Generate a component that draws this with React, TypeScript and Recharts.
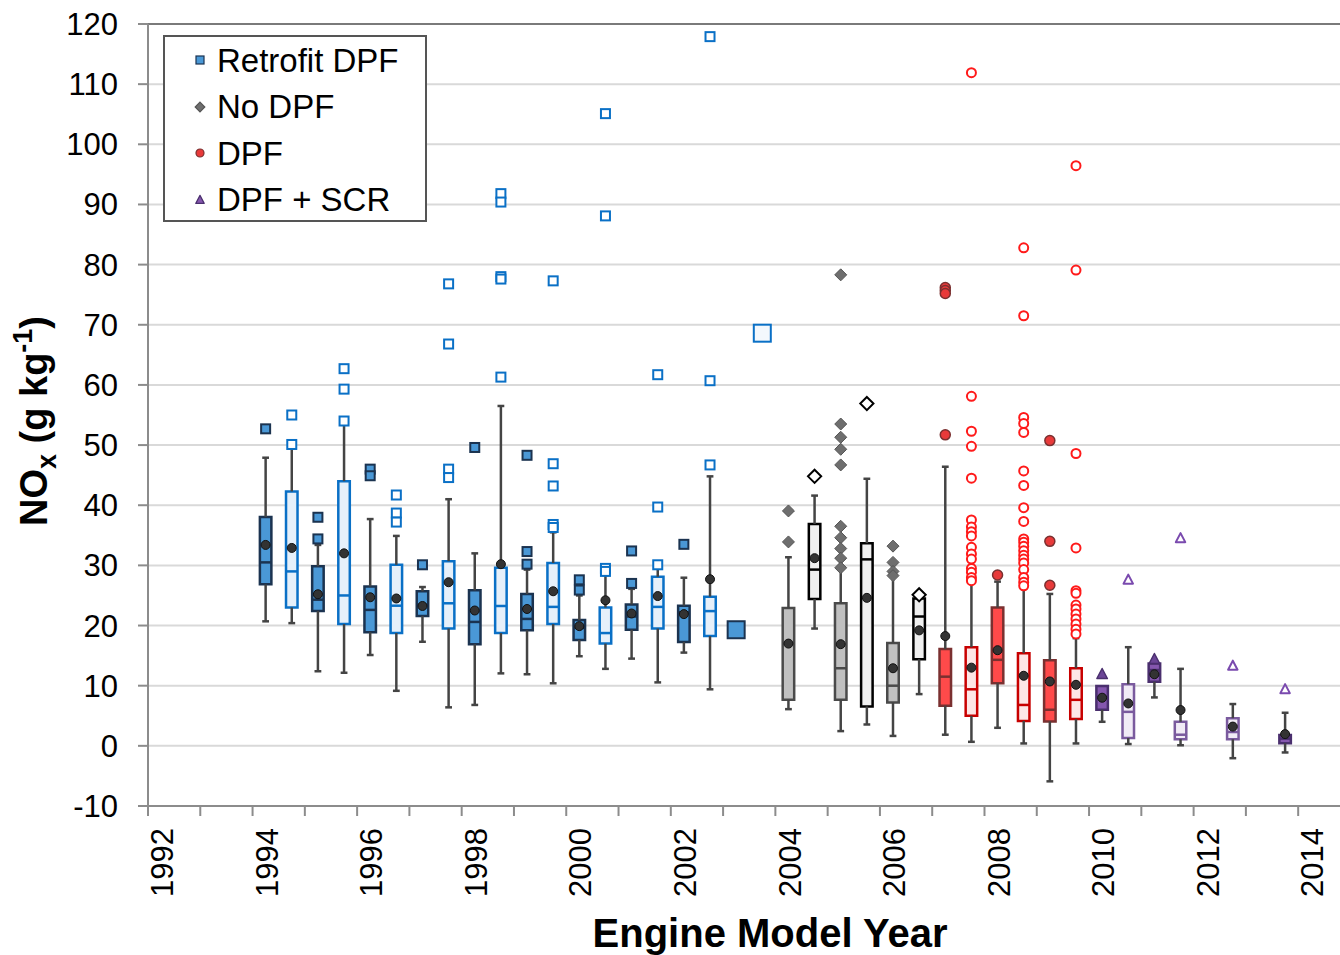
import React from 'react';
import {
  ComposedChart,
  XAxis,
  YAxis,
  CartesianGrid,
  Scatter,
  ReferenceArea,
  ReferenceLine,
  Legend,
  Label,
} from 'recharts';

const FONT = '"Liberation Sans", Arial, sans-serif';

// box statistics, one entry per box
const boxYear = [
  1994.25, 1994.75, 1995.25, 1995.75, 1996.25, 1996.75, 1997.25, 1997.75, 1998.25, 1998.75,
  1999.25, 1999.75, 2000.25, 2000.75, 2001.25, 2001.75, 2002.25, 2002.75,
  2004.25, 2004.75, 2005.25, 2005.75, 2006.25, 2006.75,
  2007.25, 2007.75, 2008.25, 2008.75, 2009.25, 2009.75,
  2010.25, 2010.75, 2011.25, 2011.75, 2012.75, 2013.75,
];
const boxGroup = [
  'rd', 'rl', 'rd', 'rl', 'rd', 'rl', 'rd', 'rl', 'rd', 'rl',
  'rd', 'rl', 'rd', 'rl', 'rd', 'rl', 'rd', 'rl',
  'nd', 'nl', 'nd', 'nl', 'nd', 'nl',
  'dd', 'dl', 'dd', 'dl', 'dd', 'dl',
  'sd', 'sl', 'sd', 'sl', 'sl', 'sd',
];
const whiskerLow = [
  20.7, 20.4, 12.4, 12.15, 15.1, 9.15, 17.3, 6.4, 6.8, 12.05,
  11.9, 10.4, 14.9, 12.8, 14.5, 10.55, 15.5, 9.4,
  6.1, 19.5, 2.45, 3.55, 1.65, 8.6,
  1.85, 0.67, 3.0, 0.4, -5.9, 0.4,
  4.0, 0.3, 8.05, 0.1, -2.05, -1.1,
];
const quartile1 = [
  26.85, 23.0, 22.4, 20.25, 18.9, 18.75, 21.6, 19.5, 16.9, 18.75,
  19.2, 20.25, 17.6, 17.0, 19.3, 19.5, 17.25, 18.25,
  7.65, 24.4, 7.65, 6.55, 7.2, 14.4,
  6.65, 5.0, 10.4, 4.15, 4.05, 4.45,
  6.0, 1.3, 10.65, 1.1, 1.1, 0.45,
];
const median = [
  30.5, 29.0, 24.3, 25.0, 22.6, 23.3, 23.4, 23.7, 20.6, 23.25,
  21.1, 23.1, 19.6, 18.75, 21.5, 23.1, 22.2, 22.4,
  17.0, 29.3, 12.9, 31.0, 10.0, 21.5,
  11.5, 9.4, 14.3, 6.8, 6.0, 7.65,
  8.0, 5.65, 12.6, 1.85, 2.3, 1.2,
];
const quartile3 = [
  38.05, 42.3, 29.85, 44.0, 26.5, 30.1, 25.7, 30.7, 25.85, 29.6,
  25.25, 30.4, 20.9, 23.0, 23.5, 28.1, 23.3, 24.8,
  22.9, 36.9, 23.7, 33.7, 17.1, 24.5,
  16.1, 16.4, 23.0, 15.4, 14.25, 12.9,
  9.95, 10.25, 13.7, 4.0, 4.6, 1.8,
];
const whiskerHigh = [
  47.9, 49.4, 33.4, 53.6, 37.7, 34.9, 26.4, 41.0, 32.0, 56.5,
  29.3, 35.5, 25.0, 28.4, 26.1, 29.85, 27.95, 44.8,
  31.35, 41.6, 29.5, 44.4, 28.3, 24.5,
  46.4, 27.2, 27.3, 26.1, 25.25, 17.9,
  9.95, 16.4, 13.7, 12.8, 6.95, 5.5,
];
const meanValue = [
  33.4, 32.9, 25.2, 32.0, 24.7, 24.5, 23.25, 27.2, 22.5, 30.2,
  22.75, 25.7, 19.9, 24.2, 22.0, 24.9, 21.9, 27.7,
  17.0, 31.2, 16.9, 24.6, 12.9, 19.2,
  18.25, 13.0, 15.9, 11.65, 10.7, 10.15,
  8.0, 7.05, 11.9, 5.95, 3.2, 1.95,
];

// outliers as [year, NOx]
const retrofitDarkOutliers = [
  [1994.25, 52.7], [1995.25, 38.0], [1995.25, 34.4], [1996.25, 46.0], [1996.25, 44.9],
  [1997.25, 30.1], [1998.25, 49.6], [1999.25, 48.3], [1999.25, 32.3], [1999.25, 30.2],
  [2000.25, 27.6], [2000.25, 25.9], [2001.25, 32.4], [2001.25, 27.0], [2002.25, 33.5],
];
const retrofitLightOutliers = [
  [1994.75, 55.0], [1994.75, 50.1], [1995.75, 62.7], [1995.75, 59.3], [1995.75, 54.0],
  [1996.75, 41.7], [1996.75, 38.7], [1996.75, 37.2], [1997.75, 76.8], [1997.75, 66.8],
  [1997.75, 46.0], [1997.75, 44.6], [1998.75, 91.8], [1998.75, 90.4], [1998.75, 78.0],
  [1998.75, 77.6], [1998.75, 61.3], [1999.75, 77.3], [1999.75, 46.9], [1999.75, 43.2],
  [1999.75, 36.8], [1999.75, 36.3], [2000.75, 105.1], [2000.75, 88.1], [2000.75, 29.5],
  [2000.75, 29.0], [2001.75, 61.7], [2001.75, 39.7], [2001.75, 30.1], [2002.75, 117.9],
  [2002.75, 60.7], [2002.75, 46.7],
];
const retrofitDarkSingle = [[2003.25, 19.3]];
const retrofitLightSingle = [[2003.75, 68.6]];
const noDpfDarkOutliers = [
  [2004.25, 39.05], [2004.25, 33.9], [2005.25, 78.3], [2005.25, 53.5], [2005.25, 51.3],
  [2005.25, 49.3], [2005.25, 46.7], [2005.25, 36.5], [2005.25, 34.6], [2005.25, 32.8],
  [2005.25, 31.2], [2005.25, 29.6], [2006.25, 33.2], [2006.25, 30.5], [2006.25, 29.0],
  [2006.25, 28.3],
];
const noDpfLightOutliers = [[2004.75, 44.8], [2005.75, 56.9], [2006.75, 25.1]];
const dpfDarkOutliers = [
  [2007.25, 76.2], [2007.25, 75.7], [2007.25, 75.2], [2007.25, 51.7], [2008.25, 28.4],
  [2009.25, 50.75], [2009.25, 34.0], [2009.25, 26.7],
];
const dpfLightOutliers = [
  [2007.75, 111.9], [2007.75, 58.1], [2007.75, 52.3], [2007.75, 49.8], [2007.75, 44.5],
  [2007.75, 37.55], [2007.75, 36.4], [2007.75, 35.6], [2007.75, 34.9], [2007.75, 33.0],
  [2007.75, 31.9], [2007.75, 31.05], [2007.75, 29.5], [2007.75, 28.85], [2007.75, 28.0],
  [2007.75, 27.45],
  [2008.75, 82.8], [2008.75, 71.5], [2008.75, 54.6], [2008.75, 53.6], [2008.75, 52.1],
  [2008.75, 45.7], [2008.75, 43.3], [2008.75, 39.6], [2008.75, 37.3], [2008.75, 34.4],
  [2008.75, 33.85], [2008.75, 33.2], [2008.75, 32.45], [2008.75, 31.7], [2008.75, 31.05],
  [2008.75, 30.4], [2008.75, 29.3], [2008.75, 28.0], [2008.75, 27.2], [2008.75, 26.6],
  [2009.75, 96.45], [2009.75, 79.1], [2009.75, 48.6], [2009.75, 32.9], [2009.75, 25.8],
  [2009.75, 25.35], [2009.75, 23.4], [2009.75, 22.75], [2009.75, 21.9], [2009.75, 21.1],
  [2009.75, 20.25], [2009.75, 19.4], [2009.75, 18.6],
];
const scrDarkOutliers = [[2010.25, 11.9], [2011.25, 14.4]];
const scrLightOutliers = [[2010.75, 27.6], [2011.75, 34.5], [2012.75, 13.3], [2013.75, 9.4]];

const yTicks = [-10, 0, 10, 20, 30, 40, 50, 60, 70, 80, 90, 100, 110, 120];
const xTicks = [
  1992, 1993, 1994, 1995, 1996, 1997, 1998, 1999, 2000, 2001, 2002, 2003,
  2004, 2005, 2006, 2007, 2008, 2009, 2010, 2011, 2012, 2013, 2014,
];
const legendLabels = ['Retrofit DPF', 'No DPF', 'DPF', 'DPF + SCR'];

const groupStyle: Record<string, { fill: string; stroke: string }> = {
  rd: { fill: '#4a98d6', stroke: '#1b3350' },
  rl: { fill: '#e6f0fa', stroke: '#0a70c6' },
  nd: { fill: '#c0c0c0', stroke: '#4a4a4a' },
  nl: { fill: '#efefef', stroke: '#000000' },
  dd: { fill: '#ff4a4a', stroke: '#7a3030' },
  dl: { fill: '#fde6e6', stroke: '#c80000' },
  sd: { fill: '#8557ae', stroke: '#4a2f6e' },
  sl: { fill: '#f1ebf6', stroke: '#7a5a9e' },
};

const HALF = 0.11;
const CAP = 0.065;
const WHISKER = '#444444';

function Marker({ kind, cx, cy, size, fill, stroke, sw }: any) {
  if (cx == null || cy == null) return <g />;
  const h = size / 2;
  if (kind === 'square') {
    return <rect x={cx - h} y={cy - h} width={size} height={size} fill={fill} stroke={stroke} strokeWidth={sw} />;
  }
  if (kind === 'diamond') {
    const d = h * 1.2;
    return (
      <polygon
        points={`${cx},${cy - d} ${cx + d},${cy} ${cx},${cy + d} ${cx - d},${cy}`}
        fill={fill}
        stroke={stroke}
        strokeWidth={sw}
      />
    );
  }
  if (kind === 'triangle') {
    return (
      <polygon
        points={`${cx},${cy - h * 1.15} ${cx + h * 1.05},${cy + h * 0.85} ${cx - h * 1.05},${cy + h * 0.85}`}
        fill={fill}
        stroke={stroke}
        strokeWidth={sw}
        strokeLinejoin="round"
      />
    );
  }
  return <circle cx={cx} cy={cy} r={h} fill={fill} stroke={stroke} strokeWidth={sw} />;
}

const markerSeries = [
  { points: retrofitDarkOutliers, kind: 'square', size: 9, fill: '#4a98d6', stroke: '#1b3350', sw: 2 },
  { points: retrofitLightOutliers, kind: 'square', size: 9, fill: '#ffffff', stroke: '#0a70c6', sw: 2 },
  { points: retrofitDarkSingle, kind: 'square', size: 17, fill: '#4a98d6', stroke: '#1b3350', sw: 2 },
  { points: retrofitLightSingle, kind: 'square', size: 17, fill: '#f3f8fd', stroke: '#0a70c6', sw: 2 },
  { points: noDpfDarkOutliers, kind: 'diamond', size: 10, fill: '#6e6e6e', stroke: '#555555', sw: 1 },
  { points: noDpfLightOutliers, kind: 'diamond', size: 11, fill: '#ffffff', stroke: '#000000', sw: 2 },
  { points: dpfDarkOutliers, kind: 'circle', size: 10, fill: '#e83a3a', stroke: '#7a3030', sw: 1.5 },
  { points: dpfLightOutliers, kind: 'circle', size: 9, fill: '#ffffff', stroke: '#ff1a1a', sw: 2 },
  { points: scrDarkOutliers, kind: 'triangle', size: 10, fill: '#6b4596', stroke: '#4a2f6e', sw: 1.5 },
  { points: scrLightOutliers, kind: 'triangle', size: 9, fill: '#ffffff', stroke: '#7a4aae', sw: 2 },
];

const legendMarkers = [
  { kind: 'square', fill: '#4a98d6', stroke: '#1b3350' },
  { kind: 'diamond', fill: '#6e6e6e', stroke: '#555555' },
  { kind: 'circle', fill: '#e83a3a', stroke: '#7a3030' },
  { kind: 'triangle', fill: '#8557ae', stroke: '#4a2f6e' },
];

function YearTick(props: any) {
  const { x, y, payload } = props;
  const v = payload.value;
  if (v % 2 !== 0) return <g />;
  return (
    <text
      transform={`translate(${x + 14},${y}) rotate(-90)`}
      textAnchor="end"
      dy="0.36em"
      fontSize={31}
      fontFamily={FONT}
      fill="#000"
    >
      {v}
    </text>
  );
}

function LegendBox() {
  return (
    <div
      style={{
        width: 264,
        height: 187,
        border: '2px solid #555',
        background: '#fff',
        boxSizing: 'border-box',
        paddingTop: 0,
        fontFamily: FONT,
        fontSize: 33,
        color: '#000',
        lineHeight: 1,
      }}
    >
      {legendLabels.map((label, i) => (
        <div key={label} style={{ display: 'flex', alignItems: 'center', height: 46.5 }}>
          <svg width={52} height={20} style={{ flex: 'none' }}>
            <Marker kind={legendMarkers[i].kind} cx={35} cy={10} size={8} fill={legendMarkers[i].fill} stroke={legendMarkers[i].stroke} sw={1.2} />
          </svg>
          <span style={{ whiteSpace: 'nowrap' }}>{label}</span>
        </div>
      ))}
    </div>
  );
}

export default function App() {
  const boxes = boxYear.map((x, i) => ({
    x,
    style: groupStyle[boxGroup[i]],
    wl: whiskerLow[i],
    q1: quartile1[i],
    med: median[i],
    q3: quartile3[i],
    wh: whiskerHigh[i],
  }));
  const means = boxYear.map((x, i) => ({ x, y: meanValue[i] }));

  return (
    <div style={{ position: 'absolute', left: 0, top: 0, background: '#fff' }}>
      <ComposedChart width={1340} height={955} margin={{ top: 24, right: 0, bottom: 0, left: 0 }}>
        <CartesianGrid horizontal vertical={false} stroke="#d9d9d9" strokeWidth={2} />
        <XAxis
          type="number"
          dataKey="x"
          domain={[1992, 2014.8]}
          ticks={xTicks}
          interval={0}
          allowDataOverflow
          height={149}
          tickSize={10}
          tickMargin={12}
          axisLine={{ stroke: '#8c8c8c', strokeWidth: 2 }}
          tickLine={{ stroke: '#8c8c8c', strokeWidth: 2 }}
          tick={<YearTick />}
        >
          <Label
            content={({ viewBox }: any) => (
              <text
                x={viewBox.x + viewBox.width / 2 + 26}
                y={viewBox.y + 141}
                textAnchor="middle"
                fontSize={40}
                fontWeight="bold"
                fontFamily={FONT}
                fill="#000"
              >
                Engine Model Year
              </text>
            )}
          />
        </XAxis>
        <YAxis
          type="number"
          dataKey="y"
          domain={[-10, 120]}
          ticks={yTicks}
          interval={0}
          allowDataOverflow
          width={148}
          tickSize={10}
          tickMargin={20}
          axisLine={{ stroke: '#8c8c8c', strokeWidth: 2 }}
          tickLine={{ stroke: '#8c8c8c', strokeWidth: 2 }}
          tick={{ fontSize: 31, fill: '#000', fontFamily: FONT }}
        >
          <Label
            content={({ viewBox }: any) => (
              <text
                transform={`translate(${viewBox.x + 47},${viewBox.y + viewBox.height / 2 + 6}) rotate(-90)`}
                textAnchor="middle"
                fontSize={38}
                fontWeight="bold"
                fontFamily={FONT}
                fill="#000"
              >
                <tspan>NO</tspan>
                <tspan dy={9} fontSize={27}>x</tspan>
                <tspan dy={-9}> (g kg</tspan>
                <tspan dy={-15} fontSize={27}>-1</tspan>
                <tspan dy={15}>)</tspan>
              </text>
            )}
          />
        </YAxis>

        <ReferenceLine y={120} stroke="#7a7a7a" strokeWidth={2} />

        {boxes.map((b, i) => (
          <ReferenceArea
            key={`box-${i}`}
            x1={b.x - HALF}
            x2={b.x + HALF}
            y1={b.q1}
            y2={b.q3}
            fill={b.style.fill}
            fillOpacity={1}
            stroke={b.style.stroke}
            strokeWidth={2.5}
          />
        ))}

        {boxes.map((b, i) => (
          <ReferenceLine
            key={`med-${i}`}
            segment={[{ x: b.x - HALF, y: b.med }, { x: b.x + HALF, y: b.med }]}
            stroke={b.style.stroke}
            strokeWidth={2.5}
          />
        ))}

        {boxes.map((b, i) =>
          b.wh > b.q3 ? (
            <ReferenceLine
              key={`wh-${i}`}
              segment={[{ x: b.x, y: b.q3 }, { x: b.x, y: b.wh }]}
              stroke={WHISKER}
              strokeWidth={2.5}
            />
          ) : null
        )}
        {boxes.map((b, i) =>
          b.wh > b.q3 ? (
            <ReferenceLine
              key={`whc-${i}`}
              segment={[{ x: b.x - CAP, y: b.wh }, { x: b.x + CAP, y: b.wh }]}
              stroke={WHISKER}
              strokeWidth={2.5}
            />
          ) : null
        )}
        {boxes.map((b, i) => (
          <ReferenceLine
            key={`wl-${i}`}
            segment={[{ x: b.x, y: b.wl }, { x: b.x, y: b.q1 }]}
            stroke={WHISKER}
            strokeWidth={2.5}
          />
        ))}
        {boxes.map((b, i) => (
          <ReferenceLine
            key={`wlc-${i}`}
            segment={[{ x: b.x - CAP, y: b.wl }, { x: b.x + CAP, y: b.wl }]}
            stroke={WHISKER}
            strokeWidth={2.5}
          />
        ))}

        {markerSeries.map((s, i) => (
          <Scatter
            key={`out-${i}`}
            data={s.points.map(([x, y]) => ({ x, y }))}
            dataKey="y"
            isAnimationActive={false}
            shape={(p: any) => (
              <Marker kind={s.kind} cx={p.cx} cy={p.cy} size={s.size} fill={s.fill} stroke={s.stroke} sw={s.sw} />
            )}
          />
        ))}

        <Scatter
          data={means}
          dataKey="y"
          isAnimationActive={false}
          shape={(p: any) => <Marker kind="circle" cx={p.cx} cy={p.cy} size={9} fill="#333333" stroke="#111111" sw={1} />}
        />

        <Legend
          layout="vertical"
          verticalAlign="middle"
          align="center"
          wrapperStyle={{ left: 163, top: 35, width: 264, height: 187 }}
          content={() => <LegendBox />}
        />
      </ComposedChart>
    </div>
  );
}
